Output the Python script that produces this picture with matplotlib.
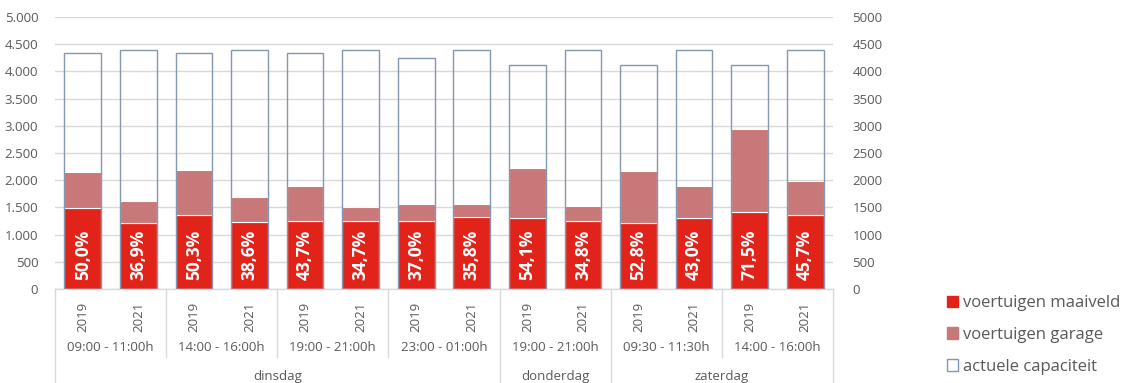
import matplotlib
matplotlib.use("Agg")
from matplotlib import pyplot as plt
from matplotlib.patches import Patch
from matplotlib.ticker import FuncFormatter

plt.rcParams['font.family'] = ['Open Sans', 'DejaVu Sans']

years = ['2019', '2021'] * 7
times = ['09:00 - 11:00h', '14:00 - 16:00h', '19:00 - 21:00h', '23:00 - 01:00h',
         '19:00 - 21:00h', '09:30 - 11:30h', '14:00 - 16:00h']
days = ['dinsdag', 'donderdag', 'zaterdag']
day_groups = [4, 1, 2]

maaiveld = [1490, 1215, 1355, 1230, 1250, 1250, 1250, 1325, 1305, 1250, 1215, 1305, 1415, 1355]
garage = [670, 395, 825, 460, 635, 265, 315, 240, 915, 275, 960, 580, 1530, 635]
capaciteit = [4340, 4400, 4340, 4400, 4340, 4400, 4250, 4400, 4120, 4400, 4120, 4400, 4120, 4400]
pct = ['50,0%', '36,9%', '50,3%', '38,6%', '43,7%', '34,7%', '37,0%', '35,8%',
       '54,1%', '34,8%', '52,8%', '43,0%', '71,5%', '45,7%']

red = '#E2231A'
rose = '#C87878'
edge = '#8497B0'
grid = '#D9D9D9'
txt = '#595959'

fig = plt.figure(figsize=(11.39, 3.83), dpi=100)
ax = fig.add_axes([0.0483, 0.2454, 0.683, 0.7102])
ax2 = ax.twinx()

x = list(range(len(years)))
w = 0.66
ax.bar(x, maaiveld, w, color=red, edgecolor='white', linewidth=0.8, zorder=2)
ax.bar(x, garage, w, bottom=maaiveld, color=rose, edgecolor='white', linewidth=0.8, zorder=2)
ax.bar(x, capaciteit, w, facecolor='none', edgecolor=edge, linewidth=1.0, zorder=3)

for i in x:
    ax.text(i, 630, pct[i], rotation=90, ha='center', va='center',
            color='white', fontsize=12.5, fontweight='bold', zorder=4)

for a in (ax, ax2):
    a.set_ylim(0, 5000)
    a.set_yticks(range(0, 5001, 500))
    a.tick_params(length=0, labelsize=9.5, labelcolor=txt)
    for s in a.spines.values():
        s.set_visible(False)
ax.yaxis.set_major_formatter(FuncFormatter(lambda v, p: f'{int(v):,}'.replace(',', '.')))
ax.tick_params(axis='y', pad=12)
ax2.tick_params(axis='y', pad=14)
ax.set_xlim(-0.5, 13.5)
ax.grid(axis='y', color=grid, linewidth=1.0, zorder=0)
ax.set_axisbelow(True)

ax.set_xticks(x)
ax.set_xticklabels(years, rotation=90)
ax.tick_params(axis='x', length=0, labelsize=9.5, labelcolor=txt, pad=9)

# category axis lines
tr = ax.get_xaxis_transform()
ax.plot([-0.5, 13.5], [0, 0], color=grid, lw=1, transform=tr, clip_on=False)
for b in [1.5, 3.5, 5.5, 11.5]:
    ax.plot([b, b], [0, -0.25], color=grid, lw=1, transform=tr, clip_on=False)
for b in [-0.5, 7.5, 9.5, 13.5]:
    ax.plot([b, b], [0, -0.35], color=grid, lw=1, transform=tr, clip_on=False)

for k, t in enumerate(times):
    ax.text(2 * k + 0.5, -0.215, t, transform=tr, ha='center', va='center',
            fontsize=9.5, color=txt)

start = 0
for d, n in zip(days, day_groups):
    ax.text(start + n - 0.5, -0.32, d, transform=tr, ha='center', va='center',
            fontsize=9.5, color=txt)
    start += 2 * n

handles = [Patch(facecolor=red, edgecolor=red),
           Patch(facecolor=rose, edgecolor=rose),
           Patch(facecolor='white', edgecolor=edge)]
labels = ['voertuigen maaiveld', 'voertuigen garage', 'actuele capaciteit']
fig.legend(handles, labels, loc='center left', bbox_to_anchor=(0.818, 0.125),
           frameon=False, fontsize=12, labelcolor=txt, handlelength=0.7,
           handleheight=0.7, handletextpad=0.3, labelspacing=0.95)

fig.savefig('out.png', dpi=100)
